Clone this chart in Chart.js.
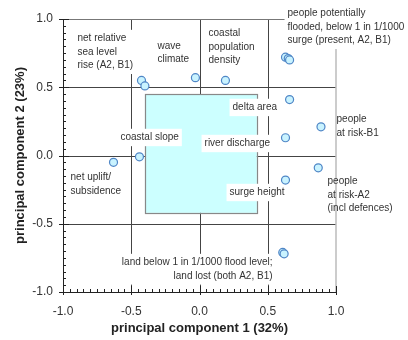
<!DOCTYPE html>
<html>
<head>
<meta charset="utf-8">
<script src="https://cdn.jsdelivr.net/npm/chart.js@4/dist/chart.umd.min.js"></script>
<style>
  html, body { margin: 0; padding: 0; background: #fff; }
  canvas { display: block; }
</style>
</head>
<body>
<canvas id="grafico" width="408" height="340"></canvas>
<script>
// variable loadings on the first two principal components
const pc1 = [-0.425, -0.40, -0.03, 0.19, 0.63, 0.65, 0.66, 0.66, 0.89, 0.63, 0.87, 0.63, 0.61, 0.62, -0.44, -0.63];
const pc2 = [0.55, 0.51, 0.57, 0.55, 0.72, 0.71, 0.70, 0.41, 0.21, 0.13, -0.09, -0.18, -0.71, -0.72, -0.01, -0.05];

const axisTicks = [-1.0, -0.5, 0.0, 0.5, 1.0];
const dividers = [-0.5, 0.0, 0.5];
const coreBox = { x: [-0.40, 0.42], y: [-0.42, 0.45] };

// label texts, anchored at data coordinates (first line centre)
const labelText = [
  ['net relative', 'sea level', 'rise (A2, B1)'],
  ['wave', 'climate'],
  ['coastal', 'population', 'density'],
  ['people potentially', 'flooded, below 1 in 1/1000', 'surge (present, A2, B1)'],
  ['delta area'],
  ['people', 'at risk-B1'],
  ['river discharge'],
  ['coastal slope'],
  ['people', 'at risk-A2', '(incl defences)'],
  ['surge height'],
  ['net uplift/', 'subsidence'],
  ['land below 1 in 1/1000 flood level;', 'land lost (both A2, B1)']
];
const labelX = [-0.894, -0.308, 0.066, 0.645, 0.242, 1.004, 0.037, -0.579, 0.938, 0.22, -0.945, 0.535];
const labelY = [0.857, 0.80, 0.894, 1.04, 0.352, 0.264, 0.088, 0.132, -0.19, -0.271, -0.161, -0.784];
const labelAlign = ['left', 'left', 'left', 'left', 'left', 'left', 'left', 'left', 'left', 'left', 'left', 'right'];
const labelBg = [true, true, true, true, true, false, true, true, false, true, false, true];

const labelFont = '10px "Liberation Sans", Arial, sans-serif';
const lineH = 13.4;

const decor = {
  id: 'decor',
  beforeDatasetsDraw(chart) {
    const ctx = chart.ctx;
    const xs = chart.scales.x, ys = chart.scales.y;
    const a = chart.chartArea;
    ctx.save();

    // internal divider lines
    ctx.strokeStyle = '#444';
    ctx.lineWidth = 1;
    dividers.forEach(v => {
      const px = Math.round(xs.getPixelForValue(v)) + 0.5;
      ctx.beginPath(); ctx.moveTo(px, a.top); ctx.lineTo(px, a.bottom); ctx.stroke();
      const py = Math.round(ys.getPixelForValue(v)) + 0.5;
      ctx.beginPath(); ctx.moveTo(a.left, py); ctx.lineTo(a.right, py); ctx.stroke();
    });

    // frame: top and right lighter
    ctx.strokeStyle = '#777';
    ctx.beginPath(); ctx.moveTo(a.left, a.top + 0.5); ctx.lineTo(a.right, a.top + 0.5); ctx.stroke();
    ctx.strokeStyle = '#bbb';
    ctx.lineWidth = 1.5;
    ctx.beginPath(); ctx.moveTo(a.right, a.top); ctx.lineTo(a.right, a.bottom); ctx.stroke();

    // core box
    const bx0 = xs.getPixelForValue(coreBox.x[0]), bx1 = xs.getPixelForValue(coreBox.x[1]);
    const by0 = ys.getPixelForValue(coreBox.y[1]), by1 = ys.getPixelForValue(coreBox.y[0]);
    ctx.fillStyle = '#ccffff';
    ctx.fillRect(bx0, by0, bx1 - bx0, by1 - by0);
    ctx.strokeStyle = '#888';
    ctx.lineWidth = 1.2;
    ctx.strokeRect(Math.round(bx0) + 0.5, Math.round(by0) + 0.5, Math.round(bx1 - bx0), Math.round(by1 - by0));

    // labels
    ctx.font = labelFont;
    ctx.textBaseline = 'middle';
    labelText.forEach((lines, i) => {
      const px = xs.getPixelForValue(labelX[i]);
      const py = ys.getPixelForValue(labelY[i]);
      const w = Math.max(...lines.map(t => ctx.measureText(t).width));
      if (labelBg[i]) {
        ctx.fillStyle = '#fff';
        const left = labelAlign[i] === 'right' ? px - w - 3 : px - 3;
        ctx.fillRect(left, py - lineH / 2 - 2, w + 6, lineH * lines.length + 4);
      }
      ctx.fillStyle = '#333';
      ctx.textAlign = labelAlign[i];
      lines.forEach((t, k) => ctx.fillText(t, px, py + k * lineH));
    });

    // left and bottom axis lines
    ctx.strokeStyle = '#222';
    ctx.lineWidth = 1;
    ctx.beginPath();
    ctx.moveTo(a.left + 0.5, a.top); ctx.lineTo(a.left + 0.5, a.bottom + 0.5); ctx.lineTo(a.right, a.bottom + 0.5);
    ctx.stroke();

    // tick marks, minor every 0.05 inward, major every 0.5 across
    for (let k = -20; k <= 20; k++) {
      const v = k * 0.05;
      const major = k % 10 === 0;
      const px = Math.round(xs.getPixelForValue(v)) + 0.5;
      const py = Math.round(ys.getPixelForValue(v)) + 0.5;
      ctx.beginPath();
      if (major) {
        ctx.moveTo(px, a.bottom - 6); ctx.lineTo(px, a.bottom + 3);
        ctx.moveTo(a.left - 4, py); ctx.lineTo(a.left + 6, py);
      } else {
        ctx.moveTo(px, a.bottom - 3); ctx.lineTo(px, a.bottom);
        ctx.moveTo(a.left, py); ctx.lineTo(a.left + 3, py);
      }
      ctx.stroke();
    }
    ctx.restore();
  }
};

const tickFont = { family: '"Liberation Sans", Arial, sans-serif', size: 12 };
const titleFont = { family: '"Liberation Sans", Arial, sans-serif', size: 13, weight: 'bold' };

window.onload = function() {
  const ctx = document.getElementById('grafico').getContext('2d');
  new Chart(ctx, {
    type: 'scatter',
    data: {
      datasets: [{
        data: pc1.map((x, i) => ({ x: x, y: pc2[i] })),
        pointRadius: 4,
        pointBackgroundColor: '#c9f3ff',
        pointBorderColor: '#4f86c6',
        pointBorderWidth: 1.2
      }]
    },
    options: {
      responsive: false,
      animation: false,
      layout: { padding: { left: 0, top: 19, right: 72, bottom: 0 } },
      plugins: { legend: { display: false }, tooltip: { enabled: false } },
      scales: {
        x: {
          type: 'linear', min: -1, max: 1,
          afterBuildTicks: s => { s.ticks = axisTicks.map(v => ({ value: v })); },
          afterFit: s => { s.height = 48; },
          grid: { display: false, drawTicks: false },
          border: { display: false },
          ticks: { font: tickFont, color: '#333', padding: 12, callback: v => v.toFixed(1) },
          title: { display: true, text: 'principal component 1 (32%)', font: titleFont, color: '#222', padding: { top: 9 } }
        },
        y: {
          type: 'linear', min: -1, max: 1,
          afterBuildTicks: s => { s.ticks = axisTicks.map(v => ({ value: v })); },
          afterFit: s => { s.width = 63; },
          grid: { display: false, drawTicks: false },
          border: { display: false },
          ticks: { font: tickFont, color: '#333', padding: 10, callback: v => v.toFixed(1) },
          title: { display: true, text: 'principal component 2 (23%)', font: titleFont, color: '#222', padding: { top: 13 } }
        }
      }
    },
    plugins: [decor]
  });
};
</script>
</body>
</html>
